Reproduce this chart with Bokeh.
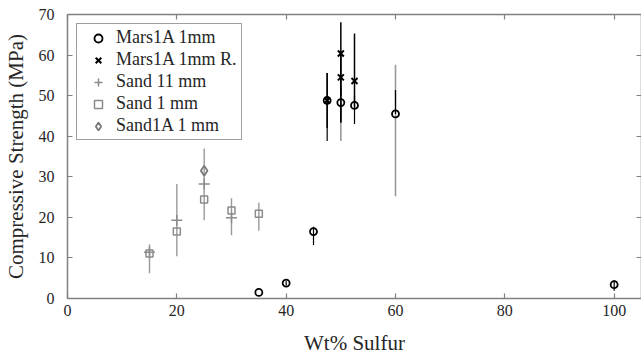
from bokeh.plotting import figure
from bokeh.models import (Range1d, LinearAxis, FixedTicker, ColumnDataSource, Legend,
                          LegendItem, CustomJSTickFormatter)
from bokeh.embed import file_html
from bokeh.resources import INLINE

# ---------------- data ----------------
x_ticks = [0, 20, 40, 60, 80, 100]
y_ticks = [0, 10, 20, 30, 40, 50, 60, 70]

mars_x = [35, 40, 45, 47.5, 50, 52.5, 60, 100]
mars_y = [1.5, 3.8, 16.5, 48.8, 48.3, 47.6, 45.5, 3.4]
mars_lo = [1.5, 3.2, 13.2, 38.8, 43.4, 43.0, 45.5, 1.9]
mars_hi = [1.5, 4.4, 17.7, 55.6, 52.0, 50.0, 51.4, 4.5]

marsR_x = [47.5, 50, 50, 52.5]
marsR_y = [48.8, 60.4, 54.5, 53.6]
marsR_lo = [42.0, 50.0, 43.4, 47.0]
marsR_hi = [55.6, 68.1, 60.0, 65.3]

mars_grey_x = [50, 60]
mars_grey_lo = [38.8, 25.2]
mars_grey_hi = [48.3, 57.6]

sand11_x = [15, 20, 25, 30]
sand11_y = [11.4, 19.3, 28.2, 19.9]
sand11_lo = [6.2, 10.4, 19.3, 15.6]
sand11_hi = [13.4, 28.2, 37.0, 24.7]

sand1_x = [15, 20, 25, 30, 35]
sand1_y = [11.1, 16.5, 24.4, 21.7, 20.9]
sand1_lo = [11.1, 16.5, 24.4, 21.7, 16.7]
sand1_hi = [11.1, 16.5, 24.4, 21.7, 23.6]

sand1A_x = [25]
sand1A_y = [31.5]

FONT = "Liberation Serif"
TXT = "#262626"
AX = "#808080"
GREY = "#8c8c8c"
GREY_BAR = "#9a9a9a"

p = figure(width=641, height=357, x_range=Range1d(0, 105), y_range=Range1d(0, 70),
           output_backend="svg", toolbar_location=None,
           min_border_left=65, min_border_right=0, min_border_top=14, min_border_bottom=54)
p.xgrid.visible = False
p.ygrid.visible = False
p.outline_line_color = None
p.background_fill_color = "white"
p.border_fill_color = "white"


def style_axis(ax, ticks, labels=True):
    ax.ticker = FixedTicker(ticks=ticks)
    ax.axis_line_color = AX
    ax.axis_line_width = 1.5
    ax.major_tick_line_color = AX
    ax.major_tick_line_width = 1.2
    ax.major_tick_in = 5
    ax.major_tick_out = 0
    ax.minor_tick_line_color = None
    if labels:
        ax.major_label_text_font = FONT
        ax.major_label_text_font_size = "16px"
        ax.major_label_text_color = TXT
        ax.axis_label_text_font = FONT
        ax.axis_label_text_font_size = "21px"
        ax.axis_label_text_font_style = "normal"
        ax.axis_label_text_color = TXT
    else:
        ax.formatter = CustomJSTickFormatter(code="return ''")
        ax.major_label_standoff = 0


style_axis(p.xaxis[0], x_ticks)
p.xaxis[0].axis_label = "Wt% Sulfur"
p.xaxis[0].major_label_standoff = 6
p.xaxis[0].axis_label_standoff = 12
style_axis(p.yaxis[0], y_ticks)
p.yaxis[0].axis_label = "Compressive Strength (MPa)"
p.yaxis[0].major_label_standoff = 13
p.yaxis[0].axis_label_standoff = 8

top = LinearAxis()
style_axis(top, x_ticks, labels=False)
p.add_layout(top, "above")
right = LinearAxis()
style_axis(right, y_ticks, labels=False)
p.add_layout(right, "right")

# ---------------- error bars ----------------
def bars(x, lo, hi, color, width):
    src = ColumnDataSource(dict(x=x, lo=lo, hi=hi))
    p.segment(x0="x", y0="lo", x1="x", y1="hi", source=src, line_color=color, line_width=width)

bars(sand11_x, sand11_lo, sand11_hi, GREY_BAR, 1.4)
bars(sand1_x, sand1_lo, sand1_hi, GREY_BAR, 1.4)
bars(mars_grey_x, mars_grey_lo, mars_grey_hi, GREY_BAR, 1.6)
bars(mars_x, mars_lo, mars_hi, "black", 1.2)
bars(marsR_x, marsR_lo, marsR_hi, "black", 1.5)

# ---------------- markers ----------------
r_mars = p.scatter(mars_x, mars_y, marker="circle", size=7, fill_color=None,
                   line_color="black", line_width=1.8)
r_marsR = p.scatter(marsR_x, marsR_y, marker="x", size=8.5, line_color="black", line_width=2)
r_s11 = p.scatter(sand11_x, sand11_y, marker="cross", size=11, line_color=GREY, line_width=1.5)
r_s1 = p.scatter(sand1_x, sand1_y, marker="square", size=7, fill_color=None,
                 line_color=GREY, line_width=1.5)
r_s1A = p.scatter(sand1A_x, sand1A_y, marker="diamond", size=10, fill_color=None,
                  line_color="#7a7a7a", line_width=1.8)

legend = Legend(items=[
    LegendItem(label="Mars1A 1mm", renderers=[r_mars]),
    LegendItem(label="Mars1A 1mm R.", renderers=[r_marsR]),
    LegendItem(label="Sand 11 mm", renderers=[r_s11]),
    LegendItem(label="Sand 1 mm", renderers=[r_s1]),
    LegendItem(label="Sand1A 1 mm", renderers=[r_s1A]),
], location=(9, 158))
legend.margin = 0
legend.padding = 3
legend.spacing = 1
legend.glyph_width = 36
legend.glyph_height = 20
legend.label_height = 20
legend.label_width = 122
legend.label_standoff = 0
legend.label_text_font = FONT
legend.label_text_font_size = "18px"
legend.label_text_color = TXT
legend.border_line_color = "#404040"
legend.border_line_width = 1
legend.background_fill_color = "white"
legend.background_fill_alpha = 1
p.add_layout(legend)

open("out.html", "w").write(file_html(p, INLINE))
